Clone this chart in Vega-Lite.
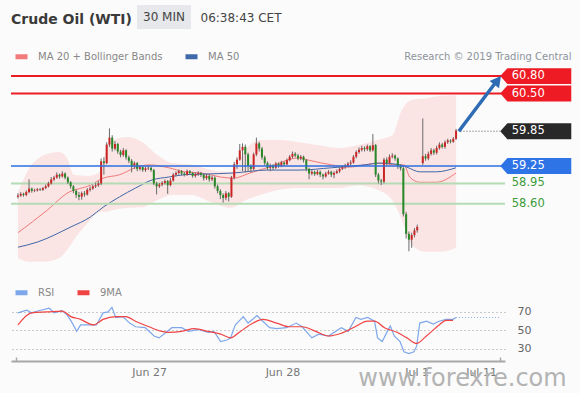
{
  "$schema": "https://vega.github.io/schema/vega-lite/v6.json",
  "width": 494,
  "height": 297,
  "autosize": {"type": "none"},
  "padding": {"left": 11, "top": 64, "right": 75, "bottom": 32},
  "background": "#fbfbfb",
  "config": {"font": "DejaVu Sans", "view": {"stroke": null}},
  "title": {"text": "Crude Oil (WTI)", "anchor": "start", "fontSize": 14, "fontWeight": "bold", "color": "#3a3a3a", "offset": 0, "dx": 1, "dy": 29, "baseline": "middle"},
  "datasets": {
    "candles": [
      {"i":0,"o":58.72,"h":58.78,"l":58.69,"c":58.74},{"i":1,"o":58.74,"h":58.80,"l":58.72,"c":58.77},{"i":2,"o":58.77,"h":58.79,"l":58.72,"c":58.75},{"i":3,"o":58.75,"h":58.83,"l":58.73,"c":58.80},{"i":4,"o":58.80,"h":59.02,"l":58.78,"c":58.86},{"i":5,"o":58.86,"h":58.88,"l":58.79,"c":58.82},{"i":6,"o":58.82,"h":58.86,"l":58.80,"c":58.83},{"i":7,"o":58.83,"h":58.87,"l":58.81,"c":58.85},{"i":8,"o":58.85,"h":58.87,"l":58.82,"c":58.84},{"i":9,"o":58.84,"h":58.89,"l":58.82,"c":58.87},
      {"i":10,"o":58.87,"h":58.93,"l":58.85,"c":58.90},{"i":11,"o":58.90,"h":58.98,"l":58.88,"c":58.95},{"i":12,"o":58.95,"h":59.06,"l":58.93,"c":59.02},{"i":13,"o":59.02,"h":59.08,"l":58.99,"c":59.05},{"i":14,"o":59.05,"h":59.14,"l":59.03,"c":59.10},{"i":15,"o":59.10,"h":59.12,"l":59.03,"c":59.07},{"i":16,"o":59.07,"h":59.16,"l":59.05,"c":59.12},{"i":17,"o":59.12,"h":59.14,"l":59.02,"c":59.05},{"i":18,"o":59.05,"h":59.07,"l":58.94,"c":58.97},{"i":19,"o":58.97,"h":58.99,"l":58.86,"c":58.90},
      {"i":20,"o":58.90,"h":58.92,"l":58.78,"c":58.82},{"i":21,"o":58.82,"h":58.85,"l":58.70,"c":58.75},{"i":22,"o":58.75,"h":58.80,"l":58.66,"c":58.72},{"i":23,"o":58.72,"h":58.81,"l":58.67,"c":58.78},{"i":24,"o":58.78,"h":58.82,"l":58.72,"c":58.76},{"i":25,"o":58.76,"h":58.87,"l":58.74,"c":58.84},{"i":26,"o":58.84,"h":58.90,"l":58.81,"c":58.86},{"i":27,"o":58.86,"h":58.93,"l":58.84,"c":58.90},{"i":28,"o":58.90,"h":58.96,"l":58.87,"c":58.92},{"i":29,"o":58.92,"h":58.99,"l":58.89,"c":58.95},
      {"i":30,"o":58.95,"h":59.38,"l":58.92,"c":59.33},{"i":31,"o":59.33,"h":59.40,"l":59.10,"c":59.30},{"i":32,"o":59.30,"h":59.66,"l":59.28,"c":59.62},{"i":33,"o":59.62,"h":59.90,"l":59.58,"c":59.74},{"i":34,"o":59.74,"h":59.78,"l":59.50,"c":59.55},{"i":35,"o":59.55,"h":59.68,"l":59.52,"c":59.63},{"i":36,"o":59.63,"h":59.65,"l":59.46,"c":59.50},{"i":37,"o":59.50,"h":59.53,"l":59.40,"c":59.44},{"i":38,"o":59.44,"h":59.56,"l":59.41,"c":59.52},{"i":39,"o":59.52,"h":59.54,"l":59.36,"c":59.40},
      {"i":40,"o":59.40,"h":59.43,"l":59.30,"c":59.34},{"i":41,"o":59.34,"h":59.37,"l":59.14,"c":59.24},{"i":42,"o":59.24,"h":59.33,"l":59.20,"c":59.30},{"i":43,"o":59.30,"h":59.32,"l":59.16,"c":59.20},{"i":44,"o":59.20,"h":59.26,"l":59.17,"c":59.23},{"i":45,"o":59.23,"h":59.25,"l":59.15,"c":59.18},{"i":46,"o":59.18,"h":59.24,"l":59.15,"c":59.21},{"i":47,"o":59.21,"h":59.25,"l":59.18,"c":59.22},{"i":48,"o":59.22,"h":59.24,"l":59.15,"c":59.18},{"i":49,"o":59.18,"h":59.20,"l":58.92,"c":58.95},
      {"i":50,"o":58.95,"h":58.98,"l":58.76,"c":58.90},{"i":51,"o":58.90,"h":58.96,"l":58.87,"c":58.93},{"i":52,"o":58.93,"h":58.99,"l":58.90,"c":58.96},{"i":53,"o":58.96,"h":59.02,"l":58.93,"c":58.99},{"i":54,"o":58.99,"h":59.01,"l":58.77,"c":58.92},{"i":55,"o":58.92,"h":59.04,"l":58.90,"c":59.00},{"i":56,"o":59.00,"h":59.13,"l":58.98,"c":59.10},{"i":57,"o":59.10,"h":59.16,"l":59.07,"c":59.13},{"i":58,"o":59.13,"h":59.19,"l":59.10,"c":59.16},{"i":59,"o":59.16,"h":59.18,"l":59.09,"c":59.12},
      {"i":60,"o":59.12,"h":59.15,"l":59.07,"c":59.10},{"i":61,"o":59.10,"h":59.19,"l":59.08,"c":59.16},{"i":62,"o":59.16,"h":59.18,"l":59.10,"c":59.13},{"i":63,"o":59.13,"h":59.15,"l":59.05,"c":59.08},{"i":64,"o":59.08,"h":59.14,"l":59.05,"c":59.11},{"i":65,"o":59.11,"h":59.16,"l":59.08,"c":59.13},{"i":66,"o":59.13,"h":59.15,"l":59.06,"c":59.10},{"i":67,"o":59.10,"h":59.12,"l":59.00,"c":59.04},{"i":68,"o":59.04,"h":59.11,"l":59.01,"c":59.08},{"i":69,"o":59.08,"h":59.10,"l":58.98,"c":59.02},
      {"i":70,"o":59.02,"h":59.08,"l":58.99,"c":59.05},{"i":71,"o":59.05,"h":59.07,"l":58.86,"c":58.90},{"i":72,"o":58.90,"h":58.93,"l":58.78,"c":58.82},{"i":73,"o":58.82,"h":58.85,"l":58.68,"c":58.75},{"i":74,"o":58.75,"h":58.78,"l":58.62,"c":58.70},{"i":75,"o":58.70,"h":58.82,"l":58.66,"c":58.78},{"i":76,"o":58.78,"h":58.80,"l":58.64,"c":58.72},{"i":77,"o":58.72,"h":59.08,"l":58.70,"c":59.05},{"i":78,"o":59.05,"h":59.32,"l":59.02,"c":59.28},{"i":79,"o":59.28,"h":59.40,"l":59.20,"c":59.36},
      {"i":80,"o":59.36,"h":59.63,"l":59.34,"c":59.52},{"i":81,"o":59.52,"h":59.64,"l":59.16,"c":59.58},{"i":82,"o":59.58,"h":59.62,"l":59.14,"c":59.45},{"i":83,"o":59.45,"h":59.48,"l":59.15,"c":59.25},{"i":84,"o":59.25,"h":59.28,"l":59.14,"c":59.20},{"i":85,"o":59.20,"h":59.48,"l":59.18,"c":59.45},{"i":86,"o":59.45,"h":59.74,"l":59.42,"c":59.64},{"i":87,"o":59.64,"h":59.67,"l":59.50,"c":59.55},{"i":88,"o":59.55,"h":59.58,"l":59.36,"c":59.40},{"i":89,"o":59.40,"h":59.43,"l":59.26,"c":59.30},
      {"i":90,"o":59.30,"h":59.33,"l":59.18,"c":59.22},{"i":91,"o":59.22,"h":59.29,"l":59.16,"c":59.26},{"i":92,"o":59.26,"h":59.28,"l":59.18,"c":59.22},{"i":93,"o":59.22,"h":59.32,"l":59.20,"c":59.29},{"i":94,"o":59.29,"h":59.31,"l":59.22,"c":59.25},{"i":95,"o":59.25,"h":59.34,"l":59.23,"c":59.31},{"i":96,"o":59.31,"h":59.33,"l":59.25,"c":59.28},{"i":97,"o":59.28,"h":59.38,"l":59.26,"c":59.35},{"i":98,"o":59.35,"h":59.44,"l":59.33,"c":59.41},{"i":99,"o":59.41,"h":59.50,"l":59.38,"c":59.46},
      {"i":100,"o":59.46,"h":59.49,"l":59.40,"c":59.43},{"i":101,"o":59.43,"h":59.46,"l":59.35,"c":59.38},{"i":102,"o":59.38,"h":59.44,"l":59.35,"c":59.41},{"i":103,"o":59.41,"h":59.43,"l":59.31,"c":59.35},{"i":104,"o":59.35,"h":59.37,"l":59.16,"c":59.20},{"i":105,"o":59.20,"h":59.22,"l":59.02,"c":59.12},{"i":106,"o":59.12,"h":59.18,"l":59.09,"c":59.15},{"i":107,"o":59.15,"h":59.17,"l":59.08,"c":59.11},{"i":108,"o":59.11,"h":59.18,"l":59.09,"c":59.15},{"i":109,"o":59.15,"h":59.17,"l":59.06,"c":59.10},
      {"i":110,"o":59.10,"h":59.12,"l":59.02,"c":59.07},{"i":111,"o":59.07,"h":59.15,"l":59.05,"c":59.12},{"i":112,"o":59.12,"h":59.18,"l":59.10,"c":59.15},{"i":113,"o":59.15,"h":59.17,"l":59.06,"c":59.10},{"i":114,"o":59.10,"h":59.16,"l":59.04,"c":59.13},{"i":115,"o":59.13,"h":59.19,"l":59.11,"c":59.16},{"i":116,"o":59.16,"h":59.23,"l":59.13,"c":59.20},{"i":117,"o":59.20,"h":59.26,"l":59.18,"c":59.23},{"i":118,"o":59.23,"h":59.29,"l":59.20,"c":59.26},{"i":119,"o":59.26,"h":59.32,"l":59.23,"c":59.29},
      {"i":120,"o":59.29,"h":59.35,"l":59.26,"c":59.31},{"i":121,"o":59.31,"h":59.44,"l":59.29,"c":59.41},{"i":122,"o":59.41,"h":59.52,"l":59.38,"c":59.49},{"i":123,"o":59.49,"h":59.57,"l":59.46,"c":59.53},{"i":124,"o":59.53,"h":59.60,"l":59.50,"c":59.56},{"i":125,"o":59.56,"h":59.59,"l":59.50,"c":59.54},{"i":126,"o":59.54,"h":59.62,"l":59.51,"c":59.59},{"i":127,"o":59.59,"h":59.61,"l":59.49,"c":59.52},{"i":128,"o":59.52,"h":59.80,"l":59.50,"c":59.61},{"i":129,"o":59.61,"h":59.63,"l":59.06,"c":59.10},
      {"i":130,"o":59.10,"h":59.13,"l":58.95,"c":59.00},{"i":131,"o":59.00,"h":59.03,"l":58.92,"c":58.98},{"i":132,"o":58.98,"h":59.39,"l":58.95,"c":59.36},{"i":133,"o":59.36,"h":59.40,"l":59.26,"c":59.30},{"i":134,"o":59.30,"h":59.45,"l":59.28,"c":59.41},{"i":135,"o":59.41,"h":59.47,"l":59.38,"c":59.43},{"i":136,"o":59.43,"h":59.45,"l":59.34,"c":59.38},{"i":137,"o":59.38,"h":59.40,"l":59.20,"c":59.25},{"i":138,"o":59.25,"h":59.28,"l":59.17,"c":59.21},{"i":139,"o":59.21,"h":59.24,"l":58.38,"c":58.42},
      {"i":140,"o":58.42,"h":58.46,"l":58.00,"c":58.08},{"i":141,"o":58.08,"h":58.12,"l":57.78,"c":57.98},{"i":142,"o":57.98,"h":58.10,"l":57.84,"c":58.06},{"i":143,"o":58.06,"h":58.18,"l":58.02,"c":58.14},{"i":144,"o":58.14,"h":58.24,"l":58.10,"c":58.20},
      {"i":146,"o":59.30,"h":60.07,"l":59.27,"c":59.42},{"i":147,"o":59.42,"h":59.46,"l":59.34,"c":59.38},{"i":148,"o":59.38,"h":59.50,"l":59.35,"c":59.46},{"i":149,"o":59.46,"h":59.56,"l":59.43,"c":59.52},
      {"i":150,"o":59.52,"h":59.55,"l":59.44,"c":59.48},{"i":151,"o":59.48,"h":59.60,"l":59.45,"c":59.56},{"i":152,"o":59.56,"h":59.66,"l":59.53,"c":59.62},{"i":153,"o":59.62,"h":59.65,"l":59.55,"c":59.58},{"i":154,"o":59.58,"h":59.69,"l":59.55,"c":59.66},{"i":155,"o":59.66,"h":59.72,"l":59.63,"c":59.69},{"i":156,"o":59.69,"h":59.71,"l":59.64,"c":59.67},{"i":157,"o":59.67,"h":59.75,"l":59.65,"c":59.72},{"i":158,"o":59.72,"h":59.89,"l":59.70,"c":59.86}
    ],
    "band": [
      {"i":0,"hi":58.80,"lo":57.66},{"i":4.2,"hi":59.22,"lo":57.60},{"i":9.5,"hi":59.44,"lo":57.60},{"i":14.8,"hi":59.49,"lo":57.66},{"i":17.7,"hi":59.39,"lo":57.80},{"i":20.1,"hi":59.10,"lo":57.97},{"i":25.4,"hi":59.08,"lo":58.28},{"i":29.7,"hi":59.15,"lo":58.46},{"i":31.8,"hi":59.53,"lo":58.46},{"i":34.3,"hi":59.70,"lo":58.49},{"i":39.6,"hi":59.75,"lo":58.53},{"i":44.9,"hi":59.66,"lo":58.54},{"i":50.2,"hi":59.44,"lo":58.66},{"i":55.5,"hi":59.30,"lo":58.75},{"i":62.5,"hi":59.27,"lo":58.75},{"i":69.6,"hi":59.18,"lo":58.63},{"i":76.7,"hi":59.15,"lo":58.53},{"i":82,"hi":59.53,"lo":58.66},{"i":87.3,"hi":59.70,"lo":58.75},{"i":94.3,"hi":59.70,"lo":58.84},{"i":101.4,"hi":59.66,"lo":58.87},{"i":108.5,"hi":59.61,"lo":58.87},{"i":115.5,"hi":59.56,"lo":58.87},{"i":122.6,"hi":59.61,"lo":58.92},{"i":129.7,"hi":59.70,"lo":58.84},{"i":135,"hi":59.78,"lo":58.66},{"i":138.5,"hi":60.22,"lo":58.32},{"i":142,"hi":60.39,"lo":57.89},{"i":147.3,"hi":60.42,"lo":57.77},{"i":152.7,"hi":60.46,"lo":57.77},{"i":158,"hi":60.47,"lo":57.84}
    ],
    "ma": [
      {"i":0,"v":58.10,"s":"MA 20 + Bollinger Bands"},{"i":10.6,"v":58.49,"s":"MA 20 + Bollinger Bands"},{"i":17.7,"v":58.78,"s":"MA 20 + Bollinger Bands"},{"i":26.1,"v":58.92,"s":"MA 20 + Bollinger Bands"},{"i":30.7,"v":59.04,"s":"MA 20 + Bollinger Bands"},{"i":36.7,"v":59.10,"s":"MA 20 + Bollinger Bands"},{"i":42.4,"v":59.22,"s":"MA 20 + Bollinger Bands"},{"i":47.3,"v":59.27,"s":"MA 20 + Bollinger Bands"},{"i":54.4,"v":59.22,"s":"MA 20 + Bollinger Bands"},{"i":60.1,"v":59.15,"s":"MA 20 + Bollinger Bands"},{"i":66.1,"v":59.13,"s":"MA 20 + Bollinger Bands"},{"i":73.1,"v":59.06,"s":"MA 20 + Bollinger Bands"},{"i":77.7,"v":59.04,"s":"MA 20 + Bollinger Bands"},{"i":83.7,"v":59.13,"s":"MA 20 + Bollinger Bands"},{"i":89.8,"v":59.22,"s":"MA 20 + Bollinger Bands"},{"i":101.4,"v":59.39,"s":"MA 20 + Bollinger Bands"},{"i":104.9,"v":59.35,"s":"MA 20 + Bollinger Bands"},{"i":113.1,"v":59.27,"s":"MA 20 + Bollinger Bands"},{"i":119.1,"v":59.23,"s":"MA 20 + Bollinger Bands"},{"i":125.1,"v":59.27,"s":"MA 20 + Bollinger Bands"},{"i":129.7,"v":59.30,"s":"MA 20 + Bollinger Bands"},{"i":136.7,"v":59.27,"s":"MA 20 + Bollinger Bands"},{"i":139.2,"v":59.27,"s":"MA 20 + Bollinger Bands"},{"i":141.3,"v":59.06,"s":"MA 20 + Bollinger Bands"},{"i":144.9,"v":58.97,"s":"MA 20 + Bollinger Bands"},{"i":150.9,"v":58.97,"s":"MA 20 + Bollinger Bands"},{"i":158,"v":59.13,"s":"MA 20 + Bollinger Bands"},
      {"i":0,"v":57.85,"s":"MA 50"},{"i":7.1,"v":57.94,"s":"MA 50"},{"i":19.1,"v":58.20,"s":"MA 50"},{"i":26.1,"v":58.37,"s":"MA 50"},{"i":30.7,"v":58.54,"s":"MA 50"},{"i":36.7,"v":58.72,"s":"MA 50"},{"i":42.4,"v":58.87,"s":"MA 50"},{"i":48.4,"v":59.01,"s":"MA 50"},{"i":54.4,"v":59.06,"s":"MA 50"},{"i":60.1,"v":59.10,"s":"MA 50"},{"i":66.1,"v":59.11,"s":"MA 50"},{"i":77.7,"v":59.13,"s":"MA 50"},{"i":89.8,"v":59.18,"s":"MA 50"},{"i":101.4,"v":59.18,"s":"MA 50"},{"i":113.1,"v":59.22,"s":"MA 50"},{"i":125.1,"v":59.27,"s":"MA 50"},{"i":130.7,"v":59.30,"s":"MA 50"},{"i":136.7,"v":59.28,"s":"MA 50"},{"i":140.3,"v":59.23,"s":"MA 50"},{"i":144.9,"v":59.15,"s":"MA 50"},{"i":150.9,"v":59.15,"s":"MA 50"},{"i":158,"v":59.22,"s":"MA 50"}
    ],
    "levels": [
      {"level":60.80,"label":"60.80","role":"resistance"},
      {"level":60.50,"label":"60.50","role":"resistance"},
      {"level":59.85,"label":"59.85","role":"last"},
      {"level":59.25,"label":"59.25","role":"pivot"},
      {"level":58.95,"label":"58.95","role":"support"},
      {"level":58.60,"label":"58.60","role":"support"}
    ],
    "rsi": [
      {"i":0,"v":69,"s":"RSI"},{"i":3.2,"v":72,"s":"RSI"},{"i":4.9,"v":69,"s":"RSI"},{"i":7.1,"v":71,"s":"RSI"},{"i":11.3,"v":74,"s":"RSI"},{"i":13.1,"v":69,"s":"RSI"},{"i":15.9,"v":71.5,"s":"RSI"},{"i":17.7,"v":67,"s":"RSI"},{"i":19.4,"v":59,"s":"RSI"},{"i":21.2,"v":49,"s":"RSI"},{"i":22.6,"v":56,"s":"RSI"},{"i":26.1,"v":56,"s":"RSI"},{"i":28.3,"v":56,"s":"RSI"},{"i":30.7,"v":69,"s":"RSI"},{"i":32.5,"v":70,"s":"RSI"},{"i":33.9,"v":75,"s":"RSI"},{"i":35.3,"v":64,"s":"RSI"},{"i":37.8,"v":65,"s":"RSI"},{"i":40.3,"v":58,"s":"RSI"},{"i":42.4,"v":54,"s":"RSI"},{"i":45.9,"v":53,"s":"RSI"},{"i":49.1,"v":44,"s":"RSI"},{"i":50.9,"v":42,"s":"RSI"},{"i":53,"v":47,"s":"RSI"},{"i":55.5,"v":53,"s":"RSI"},{"i":59,"v":53,"s":"RSI"},{"i":61.5,"v":49,"s":"RSI"},{"i":65,"v":51,"s":"RSI"},{"i":68.6,"v":48,"s":"RSI"},{"i":70.7,"v":49,"s":"RSI"},{"i":73.1,"v":38,"s":"RSI"},{"i":75.6,"v":40,"s":"RSI"},{"i":76.7,"v":42,"s":"RSI"},{"i":78.4,"v":56,"s":"RSI"},{"i":81.3,"v":65,"s":"RSI"},{"i":83,"v":58,"s":"RSI"},{"i":86.2,"v":66,"s":"RSI"},{"i":88.3,"v":60,"s":"RSI"},{"i":90.8,"v":53,"s":"RSI"},{"i":93.3,"v":52,"s":"RSI"},{"i":96.8,"v":53,"s":"RSI"},{"i":100.4,"v":58,"s":"RSI"},{"i":102.5,"v":54,"s":"RSI"},{"i":106,"v":42,"s":"RSI"},{"i":108.5,"v":46,"s":"RSI"},{"i":112,"v":44,"s":"RSI"},{"i":116.6,"v":53,"s":"RSI"},{"i":119.1,"v":49,"s":"RSI"},{"i":121.9,"v":64,"s":"RSI"},{"i":123.7,"v":62,"s":"RSI"},{"i":126.1,"v":64,"s":"RSI"},{"i":128.6,"v":60,"s":"RSI"},{"i":129.7,"v":42,"s":"RSI"},{"i":131.4,"v":38,"s":"RSI"},{"i":133.2,"v":49,"s":"RSI"},{"i":134.3,"v":55,"s":"RSI"},{"i":135.7,"v":44,"s":"RSI"},{"i":137.8,"v":38,"s":"RSI"},{"i":139.2,"v":27,"s":"RSI"},{"i":141,"v":25,"s":"RSI"},{"i":142.8,"v":27,"s":"RSI"},{"i":143.8,"v":33,"s":"RSI"},{"i":144.9,"v":58,"s":"RSI"},{"i":147.3,"v":60,"s":"RSI"},{"i":149.8,"v":57,"s":"RSI"},{"i":151.9,"v":60,"s":"RSI"},{"i":154.4,"v":62,"s":"RSI"},{"i":156.9,"v":62,"s":"RSI"},{"i":158,"v":64,"s":"RSI"},
      {"i":0,"v":56,"s":"9MA"},{"i":4.9,"v":69,"s":"9MA"},{"i":10.6,"v":70,"s":"9MA"},{"i":15.9,"v":71,"s":"9MA"},{"i":19.1,"v":65,"s":"9MA"},{"i":22.6,"v":62,"s":"9MA"},{"i":27.2,"v":56,"s":"9MA"},{"i":30.7,"v":62,"s":"9MA"},{"i":35.3,"v":65,"s":"9MA"},{"i":38.9,"v":65,"s":"9MA"},{"i":42.4,"v":60,"s":"9MA"},{"i":47.3,"v":54,"s":"9MA"},{"i":51.9,"v":49,"s":"9MA"},{"i":54.4,"v":48,"s":"9MA"},{"i":59,"v":49,"s":"9MA"},{"i":63.6,"v":52,"s":"9MA"},{"i":68.6,"v":49,"s":"9MA"},{"i":73.1,"v":46,"s":"9MA"},{"i":76.7,"v":42,"s":"9MA"},{"i":80.2,"v":49,"s":"9MA"},{"i":84.8,"v":58,"s":"9MA"},{"i":88.3,"v":62,"s":"9MA"},{"i":93.3,"v":58,"s":"9MA"},{"i":97.9,"v":54,"s":"9MA"},{"i":102.5,"v":54,"s":"9MA"},{"i":107.4,"v":49,"s":"9MA"},{"i":112,"v":44,"s":"9MA"},{"i":116.6,"v":47,"s":"9MA"},{"i":121.6,"v":54,"s":"9MA"},{"i":126.1,"v":60,"s":"9MA"},{"i":128.6,"v":60,"s":"9MA"},{"i":132.2,"v":53,"s":"9MA"},{"i":136.7,"v":48,"s":"9MA"},{"i":140.3,"v":42,"s":"9MA"},{"i":143.8,"v":36,"s":"9MA"},{"i":147.3,"v":44,"s":"9MA"},{"i":151.9,"v":56,"s":"9MA"},{"i":154.4,"v":61,"s":"9MA"},{"i":156.9,"v":61,"s":"9MA"}
    ]
  },
  "layer": [
    {
      "layer": [
        {
          "data": {"name": "band"},
          "mark": {"type": "area", "color": "#f9d2d2", "opacity": 0.55, "interpolate": "monotone"},
          "encoding": {
            "x": {"field": "i", "type": "quantitative", "scale": {"domain": [-0.7, 173.85], "nice": false, "zero": false},
                  "axis": {"values": [-0.7, 47.3, 95.4, 143.8, 167, 173.85],
                           "labelExpr": "datum.value == 47.3 ? 'Jun 27' : datum.value == 95.4 ? 'Jun 28' : datum.value == 143.8 ? 'Jul 1' : datum.value == 167 ? 'Jul 11' : ''",
                           "grid": false, "domainColor": "#a8a8a8", "domainWidth": 2,
                           "tickColor": "#a8a8a8", "tickSize": -4, "tickWidth": 1.5,
                           "tickOpacity": {"condition": {"test": "datum.value < 0 || datum.value > 170", "value": 1}, "value": 0},
                           "labelFontSize": 11, "labelColor": "#777777", "labelPadding": 9, "labelOverlap": false, "labelFlush": false,
                           "title": "www.forexre.com", "titleX": 451, "titleY": 24, "titleAlign": "center", "titleBaseline": "alphabetic",
                           "titleFontSize": 24, "titleFontWeight": "normal", "titleColor": "#b3b3b3"}},
            "y": {"field": "hi", "type": "quantitative", "scale": {"domain": [55.888, 61.009], "nice": false, "zero": false},
                  "axis": {"orient": "left", "labels": false, "ticks": false, "domain": false, "grid": false,
                           "title": "Research © 2019 Trading Central", "titleX": 560, "titleY": -8, "titleAngle": 0, "titleAlign": "right",
                           "titleBaseline": "middle", "titleFontSize": 10, "titleFontWeight": "normal", "titleColor": "#8d949b"}},
            "y2": {"field": "lo"}
          }
        },
        {
          "data": {"name": "ma"},
          "mark": {"type": "line", "strokeWidth": 1, "interpolate": "monotone"},
          "encoding": {
            "x": {"field": "i", "type": "quantitative", "scale": {"domain": [-0.7, 173.85], "nice": false, "zero": false}},
            "y": {"field": "v", "type": "quantitative", "scale": {"domain": [55.888, 61.009], "nice": false, "zero": false}},
            "color": {"field": "s", "type": "nominal",
                      "scale": {"domain": ["MA 20 + Bollinger Bands", "MA 50"], "range": ["#f27a7a", "#3f68a8"]},
                      "legend": {"orient": "none", "legendX": 2, "legendY": -16, "direction": "horizontal", "title": null,
                                 "symbolType": "stroke", "symbolStrokeWidth": 5, "symbolSize": 144,
                                 "labelFontSize": 10, "labelColor": "#888888", "labelOffset": 8, "columnPadding": 12, "padding": 0}}
          }
        },
        {
          "data": {"name": "levels"},
          "transform": [{"filter": "datum.role === 'support'"}],
          "mark": {"type": "rule", "color": "#b5dbb5", "strokeWidth": 2},
          "encoding": {"y": {"field": "level", "type": "quantitative", "scale": {"domain": [55.888, 61.009], "nice": false, "zero": false}}}
        },
        {
          "data": {"name": "candles"},
          "mark": {"type": "rule", "color": "#6b6b6b", "strokeWidth": 1},
          "encoding": {
            "x": {"field": "i", "type": "quantitative", "scale": {"domain": [-0.7, 173.85], "nice": false, "zero": false}},
            "y": {"field": "l", "type": "quantitative", "scale": {"domain": [55.888, 61.009], "nice": false, "zero": false}},
            "y2": {"field": "h"}
          }
        },
        {
          "data": {"name": "candles"},
          "mark": {"type": "bar", "size": 2},
          "encoding": {
            "x": {"field": "i", "type": "quantitative", "scale": {"domain": [-0.7, 173.85], "nice": false, "zero": false}},
            "y": {"field": "o", "type": "quantitative", "scale": {"domain": [55.888, 61.009], "nice": false, "zero": false}},
            "y2": {"field": "c"},
            "color": {"condition": {"test": "datum.c >= datum.o", "value": "#cc2424"}, "value": "#268826"}
          }
        },
        {
          "data": {"name": "levels"},
          "transform": [{"filter": "datum.role === 'pivot'"}],
          "mark": {"type": "rule", "color": "#2d6fe0", "strokeWidth": 1.6},
          "encoding": {"y": {"field": "level", "type": "quantitative", "scale": {"domain": [55.888, 61.009], "nice": false, "zero": false}}}
        },
        {
          "data": {"name": "levels"},
          "transform": [{"filter": "datum.role === 'resistance'"}],
          "mark": {"type": "rule", "color": "#ec1c24", "strokeWidth": 2},
          "encoding": {"y": {"field": "level", "type": "quantitative", "scale": {"domain": [55.888, 61.009], "nice": false, "zero": false}}}
        },
        {
          "data": {"name": "levels"},
          "transform": [{"filter": "datum.role === 'last'"}],
          "mark": {"type": "rule", "color": "#555555", "strokeWidth": 1, "strokeDash": [1, 2]},
          "encoding": {
            "x": {"datum": 159.6, "type": "quantitative", "scale": {"domain": [-0.7, 173.85], "nice": false, "zero": false}},
            "x2": {"datum": 173.85},
            "y": {"field": "level", "type": "quantitative", "scale": {"domain": [55.888, 61.009], "nice": false, "zero": false}}
          }
        },
        {
          "data": {"name": "levels"},
          "transform": [{"filter": "datum.role === 'last'"}],
          "mark": {"type": "rule", "color": "#2d6cb4", "strokeWidth": 3.5},
          "encoding": {
            "x": {"datum": 159.0, "type": "quantitative", "scale": {"domain": [-0.7, 173.85], "nice": false, "zero": false}},
            "x2": {"datum": 172.4},
            "y": {"field": "level", "type": "quantitative", "scale": {"domain": [55.888, 61.009], "nice": false, "zero": false}},
            "y2": {"datum": 60.698}
          }
        },
        {
          "data": {"name": "levels"},
          "transform": [{"filter": "datum.level === 60.8"}],
          "mark": {"type": "point", "shape": "M0,0L-0.5,0.9L0.5,0.9Z", "size": 576, "angle": 38, "filled": true, "opacity": 1, "color": "#2d6cb4"},
          "encoding": {
            "x": {"datum": 174.2, "type": "quantitative", "scale": {"domain": [-0.7, 173.85], "nice": false, "zero": false}},
            "y": {"field": "level", "type": "quantitative", "scale": {"domain": [55.888, 61.009], "nice": false, "zero": false}}
          }
        },
        {
          "data": {"name": "levels"},
          "transform": [{"filter": "datum.role !== 'support'"}],
          "mark": {"type": "point", "shape": "M-1,0L-0.8,-0.225L1,-0.225L1,0.225L-0.8,0.225Z", "size": 5041, "filled": true, "opacity": 1, "strokeWidth": 0},
          "encoding": {
            "x": {"datum": 186.75, "type": "quantitative", "scale": {"domain": [-0.7, 173.85], "nice": false, "zero": false}},
            "y": {"field": "level", "type": "quantitative", "scale": {"domain": [55.888, 61.009], "nice": false, "zero": false}},
            "fill": {"field": "role", "type": "nominal",
                     "scale": {"domain": ["resistance", "last", "pivot"], "range": ["#ee1b24", "#282828", "#2f74e6"]},
                     "legend": {"values": ["last"], "labelExpr": "'30 MIN'", "symbolSize": 0, "symbolOpacity": 0, "symbolStrokeWidth": 0,
                                "labelOffset": -12, "fillColor": "#e6e8eb", "padding": 6, "orient": "none", "legendX": 126, "legendY": -59,
                                "title": null, "labelFontSize": 12, "labelColor": "#444444"}}
          }
        },
        {
          "data": {"name": "levels"},
          "mark": {"type": "text", "align": "left", "baseline": "middle", "fontSize": 11.5},
          "encoding": {
            "x": {"datum": 178.1, "type": "quantitative", "scale": {"domain": [-0.7, 173.85], "nice": false, "zero": false}},
            "y": {"field": "level", "type": "quantitative", "scale": {"domain": [55.888, 61.009], "nice": false, "zero": false}},
            "text": {"field": "label"},
            "color": {"condition": {"test": "datum.role === 'support'", "value": "#3b9b3b"}, "value": "#ffffff"}
          }
        }
      ]
    },
    {
      "layer": [
        {
          "data": {"name": "rsi"},
          "transform": [{"filter": "datum.s === 'RSI'"}],
          "mark": {"type": "line", "strokeWidth": 1.2},
          "encoding": {
            "x": {"field": "i", "type": "quantitative", "scale": {"domain": [-0.7, 173.85], "nice": false, "zero": false}},
            "y": {"field": "v", "type": "quantitative", "scale": {"domain": [17, 338], "nice": false, "zero": false},
                  "axis": {"orient": "right", "values": [30, 50, 70], "grid": true, "gridDash": [1, 3], "gridColor": "#999999", "gridWidth": 1,
                           "ticks": false, "domain": false, "labelPadding": 12, "labelFontSize": 11, "labelColor": "#666666",
                           "title": "06:38:43 CET", "titleX": -305, "titleY": -47, "titleAngle": 0, "titleAlign": "left", "titleBaseline": "middle",
                           "titleFontSize": 12, "titleFontWeight": "normal", "titleColor": "#444444"}},
            "stroke": {"field": "s", "type": "nominal",
                       "scale": {"domain": ["RSI", "9MA"], "range": ["#7ea7ea", "#f04444"]},
                       "legend": {"orient": "none", "legendX": 2, "legendY": 220, "direction": "horizontal", "title": null,
                                  "symbolType": "stroke", "symbolStrokeWidth": 5, "symbolSize": 144,
                                  "labelFontSize": 10, "labelColor": "#888888", "labelOffset": 8, "columnPadding": 12, "padding": 0}}
          }
        },
        {
          "data": {"name": "rsi"},
          "transform": [{"filter": "datum.s === '9MA'"}],
          "mark": {"type": "line", "strokeWidth": 1.2, "interpolate": "monotone"},
          "encoding": {
            "x": {"field": "i", "type": "quantitative", "scale": {"domain": [-0.7, 173.85], "nice": false, "zero": false}},
            "y": {"field": "v", "type": "quantitative", "scale": {"domain": [17, 338], "nice": false, "zero": false}},
            "stroke": {"field": "s", "type": "nominal", "scale": {"domain": ["RSI", "9MA"], "range": ["#7ea7ea", "#f04444"]}}
          }
        },
        {
          "data": {"name": "rsi"},
          "transform": [{"filter": "datum.s === 'RSI' && datum.i === 158"}],
          "mark": {"type": "rule", "color": "#8fb2ea", "strokeWidth": 1, "strokeDash": [1, 2]},
          "encoding": {
            "x": {"field": "i", "type": "quantitative", "scale": {"domain": [-0.7, 173.85], "nice": false, "zero": false}},
            "x2": {"datum": 173.85},
            "y": {"field": "v", "type": "quantitative", "scale": {"domain": [17, 338], "nice": false, "zero": false}}
          }
        }
      ]
    }
  ],
  "resolve": {"scale": {"y": "independent"}}
}
